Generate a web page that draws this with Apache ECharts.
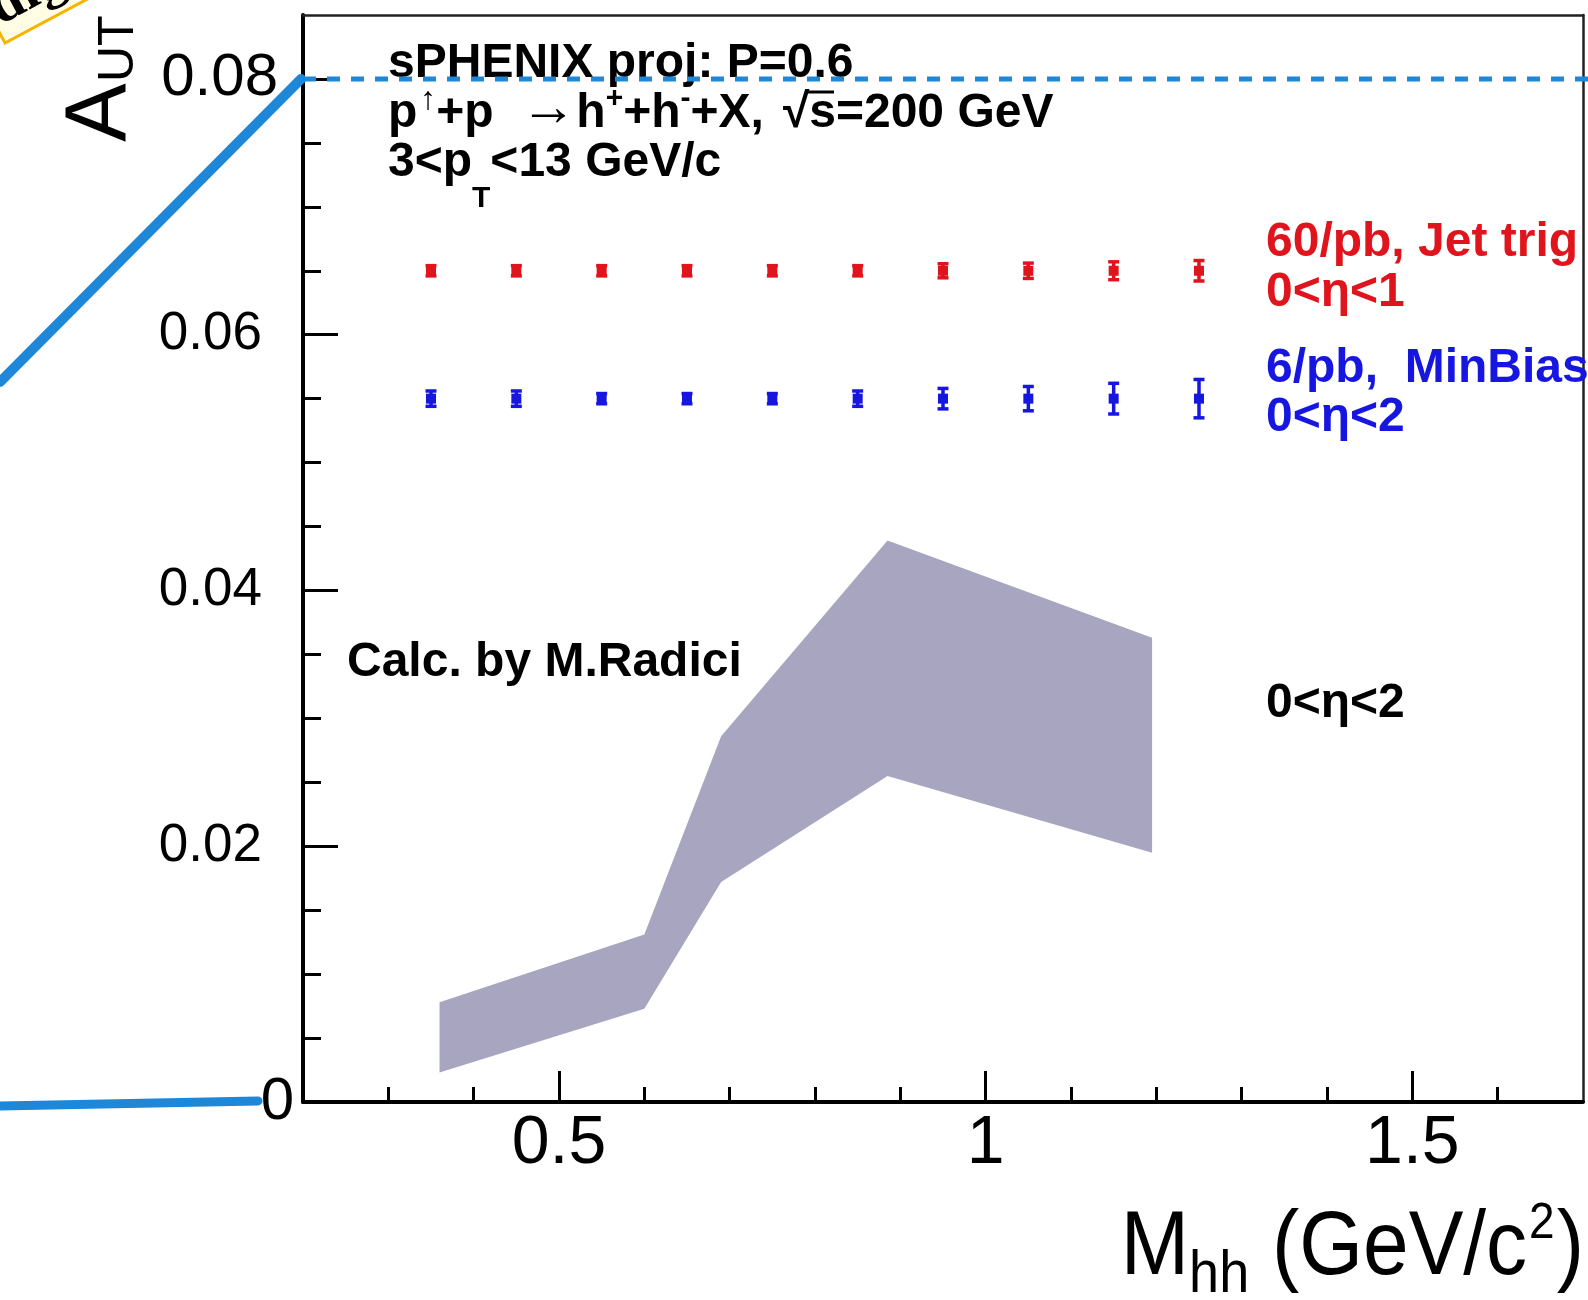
<!DOCTYPE html>
<html>
<head>
<meta charset="utf-8">
<script src="https://cdn.jsdelivr.net/npm/echarts@6/dist/echarts.min.js"></script>
<style>
    * { margin: 0; padding: 0; }
    html, body { background: #fff; }
    #main { width: 1588px; height: 1300px; }
</style>
</head>
<body>
<div id="main"></div>
<script>
    // A_UT projection vs M_hh
    var massBins = [0.35, 0.45, 0.55, 0.65, 0.75, 0.85, 0.95, 1.05, 1.15, 1.25];
    var jetTrigVal = [0.065, 0.065, 0.065, 0.065, 0.065, 0.065, 0.065, 0.065, 0.065, 0.065];
    var jetTrigErr = [0.0004, 0.0004, 0.0004, 0.0004, 0.0004, 0.0004, 0.00055, 0.0006, 0.0007, 0.0008];
    var minBiasVal = [0.055, 0.055, 0.055, 0.055, 0.055, 0.055, 0.055, 0.055, 0.055, 0.055];
    var minBiasErr = [0.0006, 0.0006, 0.0004, 0.0004, 0.0004, 0.0006, 0.0008, 0.00095, 0.0012, 0.0015];

    // theory band (Calc. by M.Radici)
    var calcX = [0.36, 0.6, 0.69, 0.885, 1.195];
    var calcUp = [0.0078, 0.0131, 0.0286, 0.0439, 0.0363];
    var calcLo = [0.0023, 0.0073, 0.0172, 0.0255, 0.0195];

    var xLabels = [0.5, 1, 1.5];
    var xMinor = [0.3, 0.4, 0.6, 0.7, 0.8, 0.9, 1.1, 1.2, 1.3, 1.4, 1.6];
    var yLabels = [0.02, 0.04, 0.06];
    var yTopLabel = [0.08];
    var yZeroLabel = [0];
    var yMajor = [0, 0.02, 0.04, 0.06, 0.08];
    var yMinor = [0.005, 0.01, 0.015, 0.025, 0.03, 0.035, 0.045, 0.05, 0.055, 0.065, 0.07, 0.075];

    var FONT = '"Liberation Sans", Arial, sans-serif';
    var RED = '#e0141c';
    var BLUE = '#1616e0';

    function errSeries(vals, errs, color) {
        return {
            type: 'custom',
            silent: true,
            z: 5,
            data: massBins.map(function (x, i) { return [x, vals[i], errs[i]]; }),
            encode: { x: 0, y: 1 },
            renderItem: function (params, api) {
                var x = api.value(0), y = api.value(1), e = api.value(2);
                var c = api.coord([x, y]);
                var t = api.coord([x, y + e]);
                var b = api.coord([x, y - e]);
                var hw = 5.5;
                var st = { stroke: color, lineWidth: 3.5 };
                return {
                    type: 'group',
                    children: [
                        { type: 'line', shape: { x1: c[0], y1: t[1], x2: c[0], y2: b[1] }, style: st },
                        { type: 'line', shape: { x1: c[0] - hw, y1: t[1], x2: c[0] + hw, y2: t[1] }, style: st },
                        { type: 'line', shape: { x1: c[0] - hw, y1: b[1], x2: c[0] + hw, y2: b[1] }, style: st },
                        { type: 'rect', shape: { x: c[0] - 5, y: c[1] - 5, width: 10, height: 10 }, style: { fill: color } }
                    ]
                };
            }
        };
    }

    var chart = echarts.init(document.getElementById('main'));

    var xBase = { type: 'value', min: 0.2, max: 1.7, splitLine: { show: false } };
    var yBase = { type: 'value', min: 0, max: 0.085, splitLine: { show: false } };
    var noLine = { show: false, onZero: false };
    var yFmt = function (v) { return v === 0 ? '0' : v.toFixed(2); };

    chart.setOption({
        animation: false,
        backgroundColor: '#fff',
        grid: { left: 303, top: 15, right: 5, bottom: 198, containLabel: false },
        xAxis: [
            Object.assign({}, xBase, {
                position: 'bottom',
                axisLine: { onZero: false, lineStyle: { color: '#000', width: 4 } },
                axisTick: { inside: true, length: 31, customValues: xLabels, lineStyle: { color: '#000', width: 3 } },
                axisLabel: { customValues: xLabels, color: '#000', fontSize: 68, fontFamily: FONT, margin: 8 }
            }),
            Object.assign({}, xBase, {
                position: 'bottom',
                axisLine: noLine,
                axisTick: { inside: true, length: 15, customValues: xMinor, lineStyle: { color: '#000', width: 3 } },
                axisLabel: { show: false }
            }),
            Object.assign({}, xBase, {
                position: 'top',
                axisLine: { onZero: false, lineStyle: { color: '#222', width: 2.5 } },
                axisTick: { show: false },
                axisLabel: { show: false }
            })
        ],
        yAxis: [
            Object.assign({}, yBase, {
                position: 'left',
                axisLine: { onZero: false, lineStyle: { color: '#000', width: 4 } },
                axisTick: { inside: true, length: 35, customValues: yMajor, lineStyle: { color: '#000', width: 3 } },
                axisLabel: { customValues: yLabels, color: '#000', fontSize: 53, fontFamily: FONT, margin: 41, formatter: yFmt }
            }),
            Object.assign({}, yBase, {
                position: 'left',
                axisLine: noLine,
                axisTick: { inside: true, length: 18, customValues: yMinor, lineStyle: { color: '#000', width: 3 } },
                axisLabel: { show: false }
            }),
            Object.assign({}, yBase, {
                position: 'right',
                axisLine: { onZero: false, lineStyle: { color: '#222', width: 2.5 } },
                axisTick: { show: false },
                axisLabel: { show: false }
            }),
            Object.assign({}, yBase, {
                position: 'left',
                axisLine: noLine,
                axisTick: { show: false },
                axisLabel: { customValues: yTopLabel, color: '#000', fontSize: 60, fontFamily: FONT, margin: 25, formatter: yFmt }
            }),
            Object.assign({}, yBase, {
                position: 'left',
                axisLine: noLine,
                axisTick: { show: false },
                axisLabel: { customValues: yZeroLabel, color: '#000', fontSize: 60, fontFamily: FONT, margin: 9, formatter: yFmt }
            })
        ],
        series: [
            {
                type: 'custom',
                silent: true,
                z: 2,
                data: [[calcX[0], calcLo[0]]],
                encode: { x: 0, y: 1 },
                renderItem: function (params, api) {
                    var pts = [];
                    for (var i = 0; i < calcX.length; i++) pts.push(api.coord([calcX[i], calcUp[i]]));
                    for (var j = calcX.length - 1; j >= 0; j--) pts.push(api.coord([calcX[j], calcLo[j]]));
                    return { type: 'polygon', shape: { points: pts }, style: { fill: '#a7a5c0' } };
                }
            },
            errSeries(jetTrigVal, jetTrigErr, RED),
            errSeries(minBiasVal, minBiasErr, BLUE)
        ]
    });

    var bold48 = { fontSize: 48, fontWeight: 'bold', fontFamily: FONT, fill: '#000' };
    function txt(x, y, text, color, extra) {
        var style = Object.assign({}, bold48, { text: text, fill: color, verticalAlign: 'middle', align: 'left' }, extra || {});
        return { type: 'text', x: x, y: y, z: 50, style: style };
    }

    var p08 = chart.convertToPixel({ xAxisIndex: 0, yAxisIndex: 0 }, [0.2, 0.08]);
    var p00 = chart.convertToPixel({ xAxisIndex: 0, yAxisIndex: 0 }, [0.2, 0]);

    chart.setOption({
        graphic: [
            txt(388, 64, 'sPHENIX proj: P=0.6', '#000', { scaleY: 1.05 }),
            txt(388, 114, '{n|p}{up|\u2191}{n|+p  }{ar|\u2192}{n|h}{sup|+}{n|+h}{sup|-}{n|+X,}{g| }{n|\u221As=200 GeV}', '#000', {
                rich: {
                    n: { fontSize: 48, fontWeight: 'bold', fontFamily: FONT, height: 52 },
                    g: { fontSize: 48, width: 19, height: 52 },
                    ar: { fontSize: 56, fontFamily: FONT, height: 52, verticalAlign: 'middle', padding: [0, 0, 8, 0] },
                    up: { fontSize: 32, fontFamily: FONT, verticalAlign: 'top', padding: [0, 0, 0, 3] },
                    sup: { fontSize: 30, fontWeight: 'bold', fontFamily: FONT, verticalAlign: 'top' }
                }
            }),
            { type: 'line', z: 50, shape: { x1: 806, y1: 92, x2: 834, y2: 92 }, style: { stroke: '#000', lineWidth: 3 } },
            txt(388, 163, '{n|3<p}{sub|T}{n|<13 GeV/c}', '#000', {
                rich: {
                    n: { fontSize: 48, fontWeight: 'bold', fontFamily: FONT, height: 52 },
                    sub: { fontSize: 30, fontWeight: 'bold', fontFamily: FONT, verticalAlign: 'bottom', height: 52, padding: [0, 0, -36, 0] }
                }
            }),
            txt(1266, 243, '60/pb, Jet trig', RED),
            txt(1266, 293, '0<\u03B7<1', RED),
            txt(1266, 369, '6/pb,  MinBias', BLUE),
            txt(1266, 418, '0<\u03B7<2', BLUE),
            txt(1266, 704, '0<\u03B7<2', '#000'),
            txt(347, 663, 'Calc. by M.Radici', '#000'),
            // y title
            {
                type: 'text', x: 102, y: 142, rotation: Math.PI / 2, z: 50,
                style: { text: 'A', fontSize: 88, fontFamily: FONT, fill: '#000', align: 'left', verticalAlign: 'middle' }
            },
            {
                type: 'text', x: 119, y: 82, rotation: Math.PI / 2, z: 50,
                style: { text: 'UT', fontSize: 50, fontFamily: FONT, fill: '#000', align: 'left', verticalAlign: 'middle' }
            },
            // x title
            {
                type: 'text', x: 1584, y: 1249, scaleY: 1.1, z: 50,
                style: {
                    text: '{m|M}{s|hh}{m| (GeV/c}{p|2}{m|)}', align: 'right', verticalAlign: 'middle',
                    rich: {
                        m: { fontSize: 82, fontFamily: FONT, fill: '#000', height: 92 },
                        s: { fontSize: 54, fontFamily: FONT, fill: '#000', verticalAlign: 'bottom', height: 92, padding: [0, 0, -24, 0] },
                        p: { fontSize: 46, fontFamily: FONT, fill: '#000', verticalAlign: 'top', padding: [0, 2, 0, 2] }
                    }
                }
            },
            // hand-drawn overlay lines
            {
                type: 'polyline', z: 60,
                shape: { points: [[0, 382], [p08[0] - 2, p08[1]]] },
                style: { stroke: '#1e87d8', lineWidth: 10, lineCap: 'round' }
            },
            {
                type: 'polyline', z: 60,
                shape: { points: [[0, p00[1] + 4], [p00[0] - 45, p00[1] - 1]] },
                style: { stroke: '#1e87d8', lineWidth: 9, lineCap: 'round' }
            },
            {
                type: 'line', z: 60,
                shape: { x1: p08[0], y1: p08[1], x2: 1588, y2: p08[1] },
                style: { stroke: '#1e87d8', lineWidth: 5, lineDash: [13, 11] }
            },
            // yellow tag at the corner
            {
                type: 'group', x: 5, y: 43, rotation: 0.49, z: 70,
                children: [
                    { type: 'rect', shape: { x: 0, y: -80, width: 280, height: 80 }, style: { fill: '#fffde3', stroke: '#f5b400', lineWidth: 3 } },
                    { type: 'text', x: 4, y: -4, style: { text: 'digitized', fontSize: 58, fontWeight: 'bold', fontFamily: '"Liberation Serif", serif', fill: '#000', verticalAlign: 'bottom' } }
                ]
            }
        ]
    });
</script>
</body>
</html>
